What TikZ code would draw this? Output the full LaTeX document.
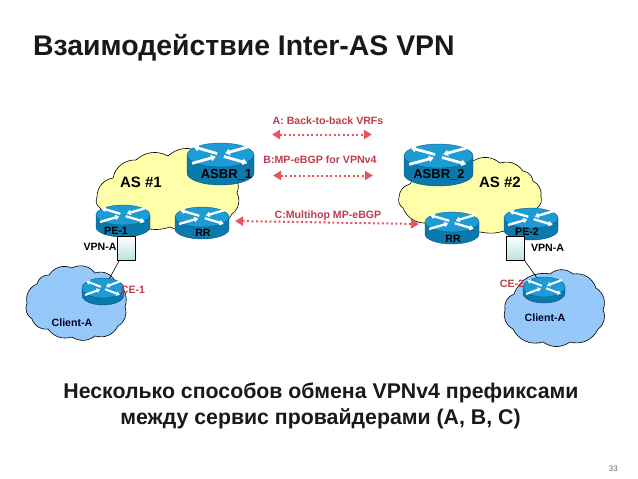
\documentclass[tikz,border=0pt]{standalone}
\usepackage{fontspec}
\setmainfont{Liberation Sans}
\usetikzlibrary{arrows.meta}
\definecolor{rtop}{RGB}{28,155,212}
\definecolor{rside}{RGB}{10,122,172}
\definecolor{routl}{RGB}{8,80,120}
\definecolor{yel}{RGB}{255,255,170}
\definecolor{blu}{RGB}{150,200,250}
\definecolor{lab}{RGB}{190,60,75}
\definecolor{arr}{RGB}{232,85,90}
\definecolor{teal1}{RGB}{185,225,225}
\definecolor{ttl}{RGB}{25,25,25}
\tikzset{
  cloudy/.style={draw=black,line width=0.6pt,line join=round},
  bump/.style={bend left=#1},
  rlabel/.style={inner sep=0pt,font=\bfseries\fontsize{10.6}{12}\selectfont,text=black},
  rlabelbig/.style={inner sep=0pt,font=\bfseries\fontsize{13}{15}\selectfont,text=black},
  aslabel/.style={inner sep=0pt,font=\bfseries\fontsize{15}{17}\selectfont,text=black},
  redlabel/.style={inner sep=0pt,font=\bfseries\fontsize{10.6}{12}\selectfont,text=lab},
  heading/.style={inner sep=0pt,font=\bfseries\fontsize{21.3}{25}\selectfont,text=ttl},
  exch/.style={arr,line width=2pt,dash pattern=on 2pt off 2.5pt,{Triangle[length=8pt,width=9pt,sep=0pt]}-{Triangle[length=8pt,width=9pt]}},
  linkline/.style={draw=black,line width=0.6pt},
  vpnbox/.style={draw=black,line width=0.8pt,minimum width=18pt,minimum height=24pt,inner sep=0pt,top color=white,bottom color=teal1},
  rarrow/.style={draw=white,line width=#1,-{Triangle[length=1.7*#1,width=2.3*#1]}}
}
\newcommand{\routericon}[7]{% name, x, y of top-ellipse centre, rx, ry, height, arrow width
  \fill[rside,draw=routl,line width=0.4pt] (#2-#4,#3) -- (#2-#4,#3+#6) arc[start angle=180,end angle=0,x radius=#4,y radius=#5] -- (#2+#4,#3) -- cycle;
  \fill[rtop,draw=routl,line width=0.3pt] (#2,#3) ellipse[x radius=#4,y radius=#5];
  \coordinate (#1) at (#2,#3);
  \begin{scope}[shift={(#2,#3)},x=#4pt,y=-#5pt]
    \draw[rarrow=#7] (-0.85,0.7) -- (-0.14,0.14);
    \draw[rarrow=#7] (0.1,0.12) -- (0.8,0.68);
    \draw[rarrow=#7] (-0.1,-0.12) -- (-0.8,-0.68);
    \draw[rarrow=#7] (0.85,-0.7) -- (0.14,-0.14);
  \end{scope}
}
\begin{document}
\begin{tikzpicture}[x=1pt,y=-1pt]
\useasboundingbox (0,0) rectangle (638,479);
\fill[white] (0,0) rectangle (638,479);

\node[inner sep=0pt,text=ttl,anchor=base west,font=\bfseries\fontsize{28.4}{32}\selectfont] (title) at (33,55) {Взаимодействие Inter-AS VPN};

% clouds
\draw[cloudy,fill=yel] (97,197) to[bump=40] (113,178) to[bump=40] (136,160) to[bump=35] (168,156) to[bump=35] (200,152) to[bump=40] (230,172) to[bump=40] (237,193) to[bump=40] (232,214) to[bump=35] (205,227) to[bump=25] (170,227) to[bump=25] (135,223) to[bump=35] (100,208) to[bump=40] cycle;
\draw[cloudy,fill=yel] (399,197) to[bump=35] (410,184) to[bump=30] (440,168) to[bump=30] (473,161) to[bump=35] (500,163) to[bump=35] (523,171) to[bump=35] (533,181) to[bump=35] (541,197) to[bump=35] (537,208) to[bump=25] (507,230) to[bump=15] (480,232) to[bump=20] (427,223) to[bump=35] (403,208) to[bump=35] cycle;
\draw[cloudy,fill=blu] (27,303) to[bump=40] (37,284) to[bump=40] (49,275) to[bump=40] (72,268) to[bump=40] (95,273) to[bump=40] (115,281) to[bump=40] (125,307) to[bump=40] (118,326) to[bump=40] (95,336) to[bump=35] (72,337) to[bump=35] (48,329) to[bump=40] (32,319) to[bump=40] cycle;
\draw[cloudy,fill=blu] (505,310) to[bump=40] (514,294) to[bump=40] (550,274) to[bump=40] (573,274) to[bump=40] (596,288) to[bump=40] (603,310) to[bump=40] (598,329) to[bump=40] (570,342) to[bump=35] (543,342) to[bump=40] (513,329) to[bump=40] cycle;

% links, below the routers
\node[vpnbox] (vpn1) at (126.5,248.5) {};
\node[vpnbox] (vpn2) at (515.5,248.5) {};
\coordinate (ce1c) at (103,290);
\coordinate (ce2c) at (544,288);
\draw[linkline] ([xshift=2pt]vpn1.south west) -- (ce1c);
\draw[linkline] (vpn2.south east) -- (ce2c);

% routers
\routericon{asbr1}{220.5}{155}{33.5}{12}{18}{2.8pt}
\routericon{asbr2}{438.5}{156}{34.5}{12}{18}{2.8pt}
\routericon{pe1}{123}{215}{27}{10}{12}{2.3pt}
\routericon{rr1}{202}{217}{27}{10}{12}{2.3pt}
\routericon{rr2}{452}{222}{27}{10}{12}{2.3pt}
\routericon{pe2}{531}{218}{27}{10}{12}{2.3pt}
\routericon{ce1}{103}{288}{21}{10}{7}{2pt}
\routericon{ce2}{544}{287}{21}{10}{6}{2pt}

% boxes over the routers
\node[vpnbox] (vpn1top) at (126.5,248.5) {};
\node[vpnbox] (vpn2top) at (515.5,248.5) {};

% exchange arrows
\coordinate (aL) at (272,134.5); \coordinate (aR) at (372,134.5);
\coordinate (bL) at (273,175.5); \coordinate (bR) at (373,175.5);
\coordinate (cL) at (235,221); \coordinate (cR) at (419,224);
\draw[exch] (aL) -- (aR);
\draw[exch] (bL) -- (bR);
\draw[exch] (cL) -- (cR);

% labels
\node[redlabel] (la) at (328,121) {A: Back-to-back VRFs};
\node[redlabel] (lb) at (320,160) {B:MP-eBGP for VPNv4};
\node[redlabel] (lc) at (328,215.5) {C:Multihop MP-eBGP};
\node[aslabel] (as1) at (141,182) {AS \#1};
\node[aslabel] (as2) at (500,182) {AS \#2};
\node[rlabelbig] (t1) at (226.5,175) {ASBR\_1};
\node[rlabelbig] (t2) at (439,175) {ASBR\_2};
\node[rlabel] (t3) at (116,230.5) {PE-1};
\node[rlabel] (t4) at (203,232.5) {RR};
\node[rlabel] (t5) at (453,238.5) {RR};
\node[rlabel] (t6) at (527,232) {PE-2};
\node[rlabel] (t7) at (100,246.5) {VPN-A};
\node[rlabel] (t8) at (547.5,247.5) {VPN-A};
\node[redlabel] (t9) at (133,290) {CE-1};
\node[redlabel] (t10) at (512,284) {CE-2};
\node[rlabel,text=black!85!blue] (t11) at (72,323) {Client-A};
\node[rlabel,text=black!85!blue] (t12) at (545,317.5) {Client-A};

\node[heading,anchor=base] (b1) at (321,398) {Несколько способов обмена VPNv4 префиксами};
\node[heading,anchor=base] (b2) at (320.5,424) {между сервис провайдерами (A, B, C)};
\node[inner sep=0pt,anchor=base east,font=\fontsize{8}{10}\selectfont,text=black!60] (pg) at (618,471) {33};
\end{tikzpicture}
\end{document}
